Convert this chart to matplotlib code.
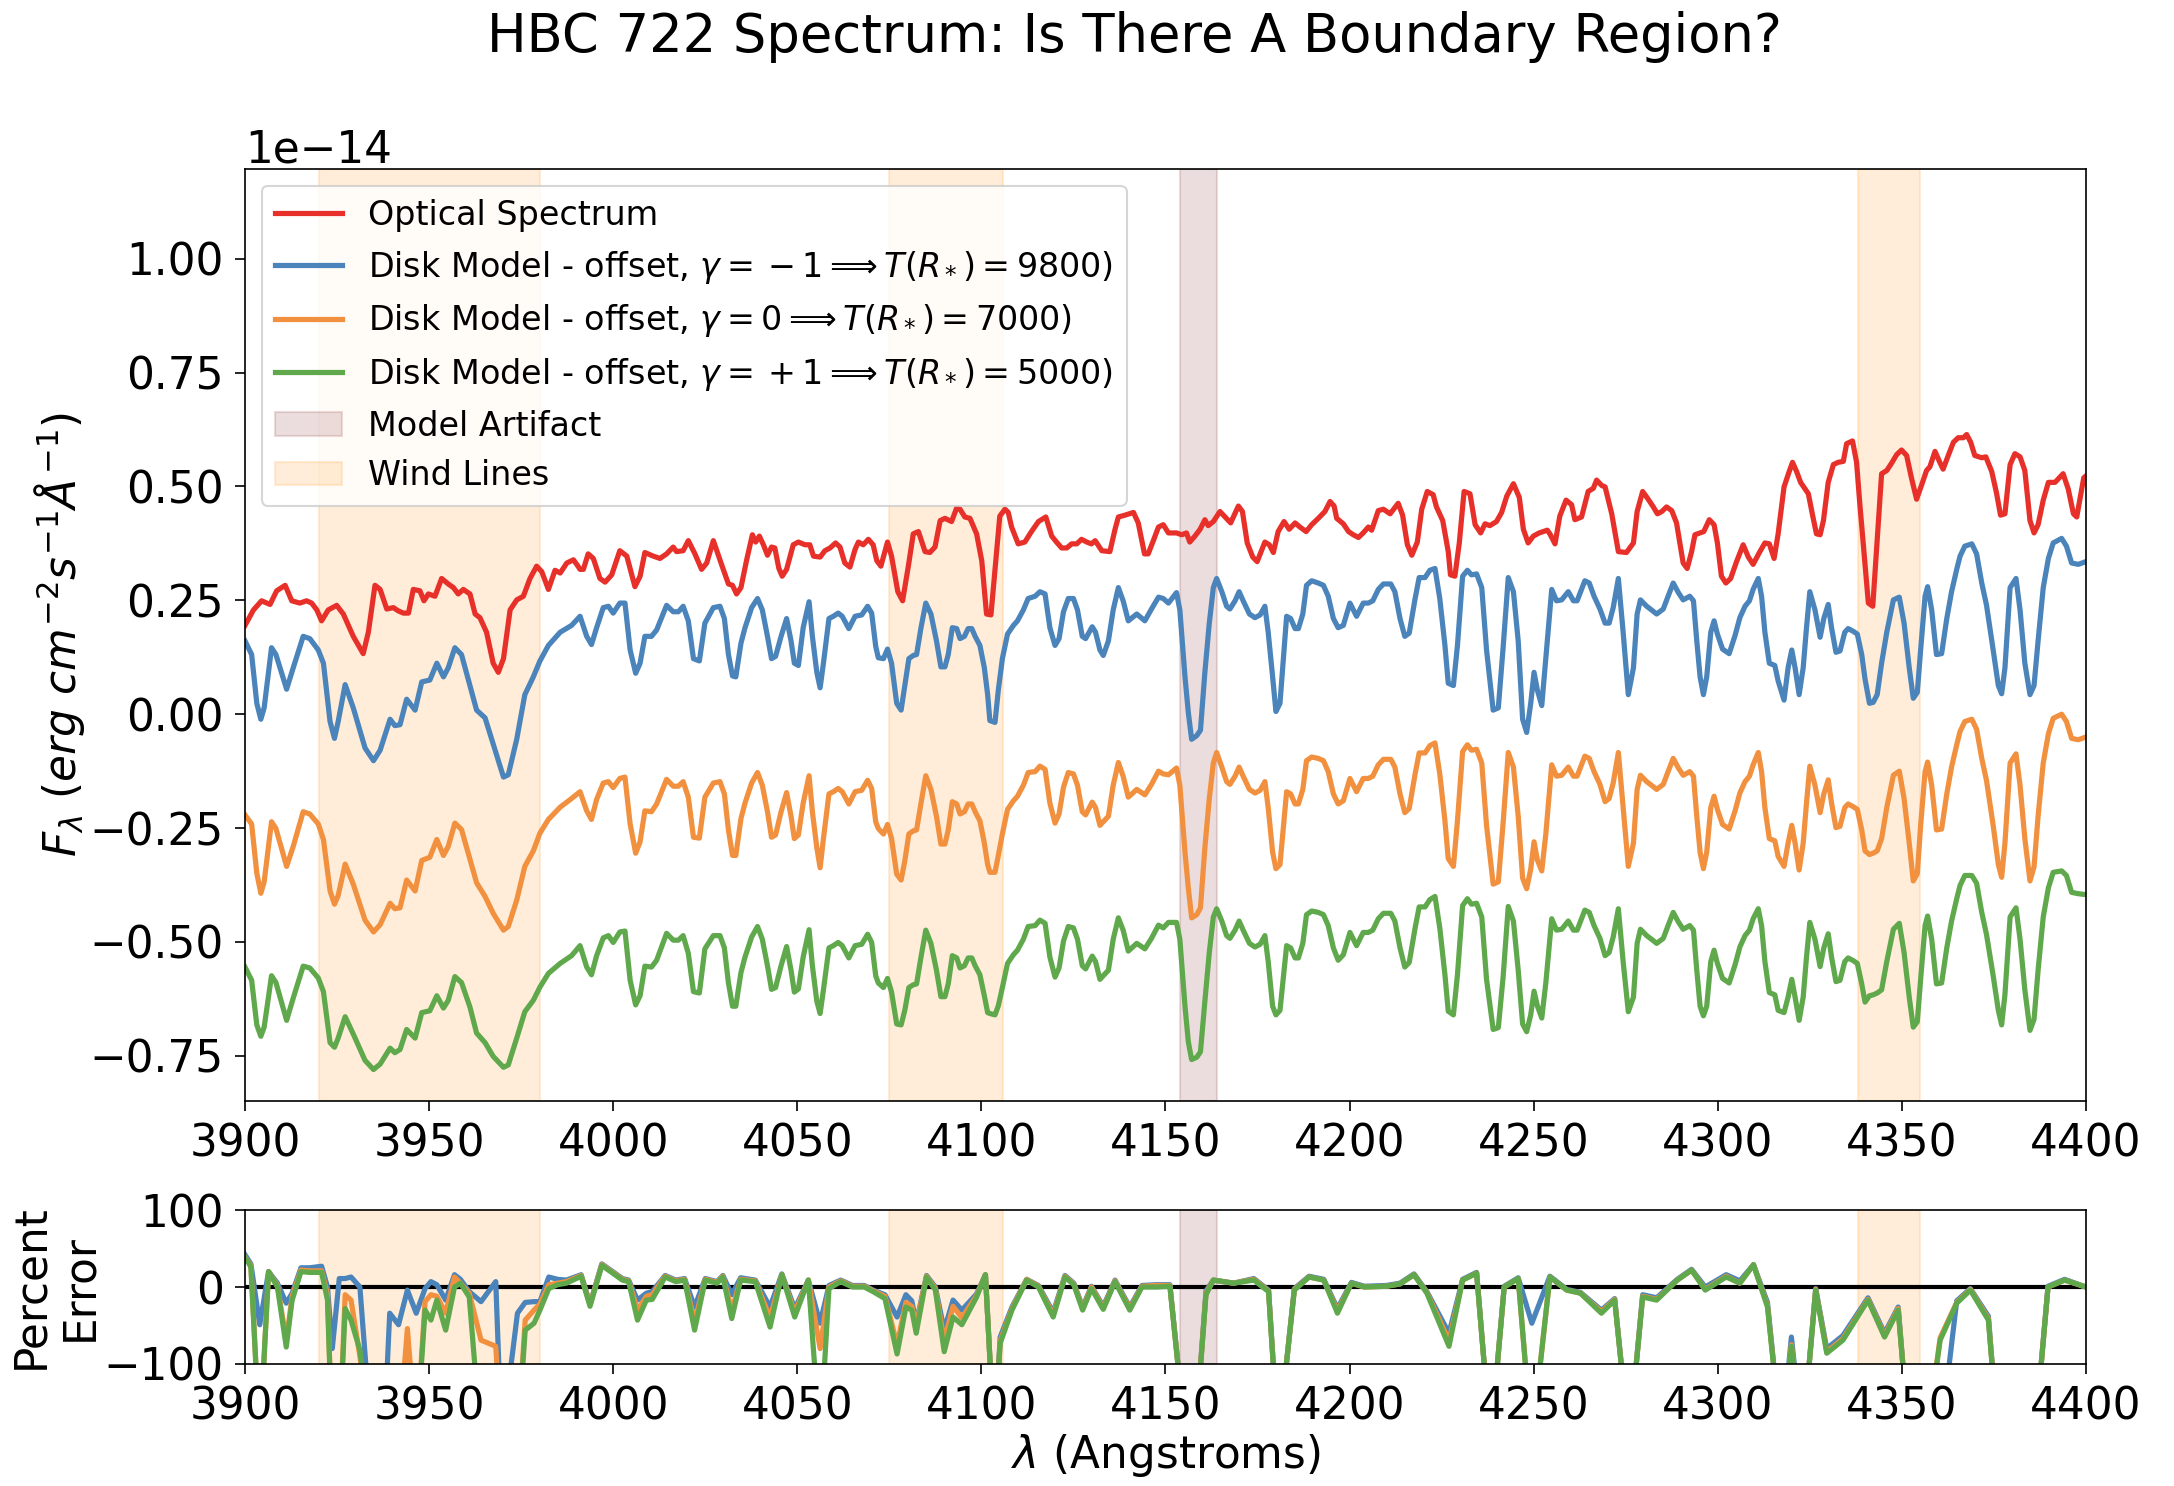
import matplotlib
matplotlib.use("Agg")
import matplotlib.pyplot as plt

# ---- wavelength grid of the disk models (Angstroms) ----
model_wl = [
    3900.0, 3901.8, 3903.2, 3904.3, 3905.2, 3907.2, 3908.4, 3911.3, 3913.1, 3915.8,
    3917.6, 3919.9, 3921.3, 3923.1, 3924.3, 3925.3, 3927.2, 3929.4, 3932.6, 3934.9,
    3936.7, 3939.4, 3940.7, 3942.1, 3943.9, 3946.2, 3948.0, 3950.2, 3952.1, 3953.9,
    3955.2, 3957.0, 3958.8, 3961.1, 3962.9, 3965.2, 3967.4, 3970.2, 3971.5, 3973.8,
    3976.0, 3978.3, 3980.1, 3982.4, 3985.6, 3988.7, 3991.0, 3992.8, 3994.1, 3995.5,
    3997.3, 3998.7, 4000.0, 4001.8, 4003.2, 4004.6, 4006.1, 4007.3, 4008.6, 4010.4,
    4011.8, 4014.5, 4016.3, 4017.7, 4019.0, 4020.4, 4021.8, 4023.4, 4024.9, 4027.2,
    4029.0, 4030.2, 4031.3, 4032.4, 4033.3, 4034.7, 4035.8, 4037.6, 4039.2, 4040.5,
    4041.9, 4043.0, 4044.1, 4045.6, 4047.1, 4048.3, 4049.2, 4050.3, 4051.6, 4053.2,
    4054.1, 4055.3, 4056.2, 4057.1, 4058.6, 4059.8, 4061.1, 4062.2, 4064.0, 4065.7,
    4067.5, 4069.1, 4070.2, 4071.3, 4072.0, 4073.4, 4074.5, 4075.6, 4077.0, 4078.2,
    4079.2, 4080.3, 4081.5, 4082.4, 4083.6, 4084.9, 4086.3, 4087.8, 4089.0, 4090.1,
    4091.0, 4092.1, 4093.3, 4094.2, 4095.4, 4096.4, 4097.4, 4098.3, 4099.6, 4100.8,
    4101.7, 4102.3, 4103.7, 4104.6, 4105.7, 4107.1, 4108.7, 4109.8, 4111.4, 4112.7,
    4114.6, 4115.9, 4117.3, 4118.6, 4120.0, 4121.1, 4122.3, 4123.6, 4125.0, 4126.1,
    4127.4, 4128.3, 4130.1, 4131.0, 4132.2, 4133.1, 4134.5, 4135.8, 4137.2, 4138.5,
    4139.9, 4142.2, 4144.4, 4146.2, 4148.1, 4149.4, 4150.8, 4153.0, 4153.9, 4155.3,
    4156.2, 4157.1, 4158.5, 4159.5, 4160.7, 4161.9, 4163.0, 4163.9, 4165.3, 4166.6,
    4167.5, 4168.9, 4170.0, 4171.1, 4172.8, 4174.3, 4175.7, 4177.0, 4177.9, 4179.1,
    4180.0, 4181.1, 4182.9, 4184.0, 4185.2, 4186.1, 4187.3, 4188.3, 4189.7, 4191.5,
    4192.9, 4194.2, 4195.6, 4196.9, 4198.3, 4200.1, 4201.9, 4203.7, 4205.1, 4206.3,
    4207.8, 4209.2, 4211.2, 4212.3, 4213.7, 4215.0, 4216.2, 4217.8, 4218.9, 4220.5,
    4221.8, 4223.2, 4224.5, 4225.9, 4226.8, 4228.2, 4229.3, 4230.7, 4232.0, 4233.1,
    4234.5, 4235.9, 4237.2, 4239.0, 4240.4, 4241.7, 4243.1, 4244.5, 4245.8, 4247.0,
    4248.1, 4249.2, 4250.1, 4251.0, 4252.2, 4253.3, 4254.9, 4256.2, 4257.6, 4259.4,
    4260.8, 4261.8, 4263.9, 4265.1, 4266.4, 4268.0, 4269.4, 4270.5, 4271.6, 4273.0,
    4274.3, 4275.7, 4277.1, 4278.1, 4279.0, 4280.7, 4282.0, 4283.4, 4285.2, 4286.6,
    4287.9, 4289.3, 4290.6, 4292.4, 4293.4, 4294.3, 4295.2, 4296.1, 4297.0, 4298.1,
    4299.0, 4299.9, 4301.3, 4303.1, 4304.7, 4306.0, 4307.4, 4308.6, 4309.6, 4311.0,
    4311.9, 4312.8, 4314.0, 4315.5, 4316.4, 4318.0, 4319.1, 4320.1, 4321.0, 4322.1,
    4323.2, 4324.1, 4325.0, 4326.4, 4327.8, 4328.8, 4330.0, 4330.9, 4332.1, 4333.2,
    4334.5, 4335.4, 4336.8, 4337.9, 4339.1, 4340.0, 4341.2, 4342.2, 4343.3, 4344.5,
    4345.9, 4347.7, 4349.3, 4350.6, 4352.0, 4353.1, 4354.2, 4355.1, 4356.3, 4357.0,
    4358.1, 4359.4, 4360.8, 4362.2, 4363.5, 4364.9, 4365.8, 4367.1, 4369.0, 4370.3,
    4371.7, 4373.0, 4374.8, 4376.2, 4377.1, 4378.0, 4379.4, 4381.0, 4382.1, 4383.4,
    4384.8, 4385.9, 4387.0, 4388.4, 4389.8, 4391.1, 4393.4, 4394.7, 4396.1, 4397.9,
    4400.0,
]

# disk model, gamma = -1 (T(R*) = 9800), already offset, units of 1e-14
disk_hot = [
    0.161, 0.131, 0.024, -0.011, 0.014, 0.146, 0.131, 0.055, 0.102, 0.171,
    0.166, 0.141, 0.112, -0.016, -0.053, -0.016, 0.065, 0.014, -0.074, -0.102,
    -0.079, -0.011, -0.025, -0.023, 0.033, 0.009, 0.071, 0.075, 0.112, 0.082,
    0.102, 0.146, 0.131, 0.063, 0.009, -0.008, -0.065, -0.138, -0.133, -0.055,
    0.043, 0.082, 0.117, 0.151, 0.180, 0.195, 0.215, 0.171, 0.153, 0.190,
    0.234, 0.237, 0.222, 0.244, 0.244, 0.141, 0.090, 0.112, 0.171, 0.171,
    0.185, 0.239, 0.225, 0.225, 0.237, 0.205, 0.122, 0.117, 0.200, 0.234,
    0.237, 0.210, 0.131, 0.084, 0.082, 0.156, 0.190, 0.234, 0.254, 0.229,
    0.171, 0.122, 0.127, 0.171, 0.210, 0.161, 0.112, 0.107, 0.190, 0.247,
    0.171, 0.092, 0.058, 0.112, 0.210, 0.215, 0.222, 0.215, 0.188, 0.215,
    0.218, 0.237, 0.222, 0.149, 0.124, 0.122, 0.143, 0.112, 0.024, 0.009,
    0.063, 0.122, 0.129, 0.131, 0.190, 0.244, 0.220, 0.161, 0.104, 0.104,
    0.131, 0.190, 0.188, 0.166, 0.171, 0.188, 0.188, 0.171, 0.151, 0.102,
    0.043, -0.014, -0.018, 0.053, 0.122, 0.176, 0.195, 0.205, 0.229, 0.254,
    0.259, 0.269, 0.264, 0.190, 0.151, 0.166, 0.225, 0.254, 0.254, 0.229,
    0.171, 0.166, 0.192, 0.180, 0.141, 0.129, 0.161, 0.229, 0.278, 0.249,
    0.205, 0.220, 0.205, 0.231, 0.257, 0.254, 0.244, 0.267, 0.229, 0.082,
    0.004, -0.055, -0.047, -0.035, 0.092, 0.200, 0.278, 0.298, 0.269, 0.237,
    0.231, 0.249, 0.269, 0.249, 0.220, 0.212, 0.218, 0.237, 0.180, 0.082,
    0.006, 0.024, 0.215, 0.210, 0.188, 0.188, 0.220, 0.283, 0.293, 0.288,
    0.283, 0.259, 0.210, 0.190, 0.195, 0.244, 0.215, 0.244, 0.244, 0.249,
    0.274, 0.286, 0.286, 0.269, 0.210, 0.171, 0.178, 0.254, 0.300, 0.300,
    0.316, 0.320, 0.254, 0.151, 0.068, 0.063, 0.151, 0.303, 0.316, 0.306,
    0.308, 0.278, 0.141, 0.009, 0.014, 0.146, 0.300, 0.269, 0.161, -0.011,
    -0.040, 0.024, 0.092, 0.053, 0.019, 0.122, 0.274, 0.249, 0.251, 0.269,
    0.249, 0.249, 0.293, 0.288, 0.259, 0.231, 0.200, 0.200, 0.234, 0.298,
    0.180, 0.043, 0.102, 0.220, 0.251, 0.237, 0.229, 0.220, 0.231, 0.261,
    0.288, 0.267, 0.251, 0.259, 0.249, 0.161, 0.082, 0.043, 0.082, 0.180,
    0.205, 0.176, 0.143, 0.133, 0.173, 0.212, 0.237, 0.249, 0.274, 0.298,
    0.259, 0.180, 0.112, 0.107, 0.073, 0.031, 0.102, 0.141, 0.102, 0.043,
    0.102, 0.190, 0.269, 0.229, 0.169, 0.210, 0.241, 0.190, 0.136, 0.139,
    0.180, 0.188, 0.182, 0.176, 0.131, 0.077, 0.024, 0.026, 0.043, 0.112,
    0.180, 0.251, 0.257, 0.200, 0.102, 0.035, 0.048, 0.141, 0.259, 0.280,
    0.229, 0.131, 0.133, 0.210, 0.269, 0.318, 0.347, 0.369, 0.374, 0.352,
    0.288, 0.239, 0.141, 0.063, 0.045, 0.102, 0.278, 0.298, 0.229, 0.112,
    0.043, 0.063, 0.161, 0.278, 0.342, 0.376, 0.386, 0.369, 0.332, 0.329,
    0.335,
]

# disk model, gamma = 0 (T(R*) = 7000)
disk_mid = [
    -0.221, -0.241, -0.349, -0.393, -0.368, -0.236, -0.251, -0.334, -0.290, -0.214,
    -0.219, -0.241, -0.275, -0.388, -0.417, -0.398, -0.329, -0.373, -0.452, -0.478,
    -0.462, -0.415, -0.427, -0.425, -0.364, -0.388, -0.321, -0.314, -0.275, -0.310,
    -0.290, -0.239, -0.253, -0.319, -0.370, -0.400, -0.437, -0.474, -0.466, -0.408,
    -0.334, -0.300, -0.261, -0.231, -0.204, -0.185, -0.170, -0.212, -0.231, -0.187,
    -0.151, -0.148, -0.161, -0.141, -0.138, -0.241, -0.305, -0.280, -0.212, -0.214,
    -0.197, -0.143, -0.158, -0.158, -0.148, -0.182, -0.270, -0.272, -0.182, -0.151,
    -0.148, -0.175, -0.254, -0.310, -0.310, -0.229, -0.195, -0.151, -0.128, -0.156,
    -0.214, -0.270, -0.265, -0.214, -0.172, -0.224, -0.273, -0.265, -0.195, -0.135,
    -0.214, -0.293, -0.337, -0.273, -0.175, -0.170, -0.163, -0.170, -0.197, -0.170,
    -0.167, -0.145, -0.163, -0.236, -0.251, -0.263, -0.242, -0.273, -0.351, -0.364,
    -0.322, -0.263, -0.256, -0.254, -0.195, -0.135, -0.165, -0.224, -0.285, -0.285,
    -0.254, -0.192, -0.197, -0.219, -0.214, -0.197, -0.197, -0.214, -0.234, -0.283,
    -0.330, -0.347, -0.347, -0.310, -0.263, -0.209, -0.190, -0.180, -0.156, -0.128,
    -0.126, -0.114, -0.121, -0.195, -0.239, -0.219, -0.160, -0.128, -0.131, -0.156,
    -0.214, -0.221, -0.193, -0.205, -0.244, -0.236, -0.224, -0.156, -0.106, -0.136,
    -0.182, -0.165, -0.177, -0.154, -0.125, -0.131, -0.133, -0.118, -0.156, -0.303,
    -0.381, -0.447, -0.440, -0.425, -0.293, -0.185, -0.107, -0.084, -0.116, -0.148,
    -0.154, -0.136, -0.116, -0.136, -0.165, -0.173, -0.167, -0.148, -0.205, -0.303,
    -0.339, -0.330, -0.170, -0.175, -0.197, -0.197, -0.165, -0.102, -0.094, -0.097,
    -0.102, -0.126, -0.175, -0.197, -0.190, -0.141, -0.170, -0.141, -0.141, -0.136,
    -0.111, -0.099, -0.099, -0.116, -0.175, -0.216, -0.207, -0.131, -0.085, -0.085,
    -0.069, -0.063, -0.131, -0.234, -0.317, -0.334, -0.234, -0.082, -0.067, -0.079,
    -0.077, -0.107, -0.244, -0.373, -0.368, -0.239, -0.084, -0.116, -0.224, -0.360,
    -0.383, -0.340, -0.280, -0.320, -0.344, -0.263, -0.111, -0.136, -0.134, -0.116,
    -0.136, -0.136, -0.092, -0.097, -0.126, -0.154, -0.192, -0.185, -0.151, -0.084,
    -0.205, -0.334, -0.283, -0.165, -0.134, -0.148, -0.156, -0.165, -0.154, -0.124,
    -0.097, -0.118, -0.134, -0.126, -0.136, -0.224, -0.303, -0.339, -0.303, -0.205,
    -0.180, -0.209, -0.242, -0.252, -0.212, -0.173, -0.148, -0.136, -0.111, -0.084,
    -0.126, -0.205, -0.273, -0.278, -0.312, -0.334, -0.283, -0.244, -0.283, -0.342,
    -0.283, -0.195, -0.114, -0.156, -0.216, -0.175, -0.144, -0.195, -0.249, -0.246,
    -0.205, -0.197, -0.203, -0.209, -0.254, -0.300, -0.308, -0.305, -0.300, -0.273,
    -0.205, -0.134, -0.125, -0.185, -0.283, -0.366, -0.350, -0.244, -0.126, -0.105,
    -0.156, -0.254, -0.252, -0.175, -0.116, -0.067, -0.038, -0.016, -0.011, -0.033,
    -0.097, -0.146, -0.244, -0.330, -0.358, -0.283, -0.107, -0.087, -0.156, -0.273,
    -0.366, -0.335, -0.224, -0.107, -0.043, -0.009, 0.000, -0.016, -0.053, -0.056,
    -0.050,
]

# disk model, gamma = +1 (T(R*) = 5000)
disk_cool = [
    -0.555, -0.584, -0.682, -0.707, -0.687, -0.574, -0.589, -0.672, -0.623, -0.553,
    -0.557, -0.579, -0.609, -0.721, -0.731, -0.711, -0.664, -0.702, -0.760, -0.780,
    -0.768, -0.733, -0.743, -0.736, -0.692, -0.711, -0.655, -0.651, -0.618, -0.645,
    -0.628, -0.576, -0.589, -0.643, -0.700, -0.721, -0.751, -0.775, -0.770, -0.711,
    -0.653, -0.628, -0.599, -0.569, -0.547, -0.530, -0.508, -0.555, -0.572, -0.530,
    -0.491, -0.486, -0.501, -0.478, -0.476, -0.584, -0.638, -0.618, -0.553, -0.555,
    -0.540, -0.481, -0.496, -0.496, -0.486, -0.525, -0.609, -0.612, -0.515, -0.486,
    -0.486, -0.513, -0.590, -0.641, -0.641, -0.567, -0.533, -0.489, -0.466, -0.494,
    -0.552, -0.604, -0.600, -0.552, -0.510, -0.562, -0.610, -0.603, -0.533, -0.473,
    -0.552, -0.630, -0.657, -0.605, -0.513, -0.508, -0.501, -0.508, -0.535, -0.508,
    -0.505, -0.483, -0.501, -0.574, -0.590, -0.600, -0.580, -0.610, -0.680, -0.682,
    -0.650, -0.600, -0.594, -0.592, -0.533, -0.474, -0.503, -0.562, -0.620, -0.620,
    -0.592, -0.530, -0.535, -0.557, -0.552, -0.535, -0.535, -0.552, -0.572, -0.618,
    -0.655, -0.657, -0.660, -0.640, -0.600, -0.547, -0.528, -0.518, -0.494, -0.466,
    -0.464, -0.452, -0.459, -0.533, -0.577, -0.557, -0.498, -0.466, -0.469, -0.494,
    -0.552, -0.559, -0.531, -0.543, -0.582, -0.574, -0.562, -0.494, -0.447, -0.474,
    -0.520, -0.503, -0.515, -0.492, -0.463, -0.469, -0.457, -0.457, -0.494, -0.641,
    -0.719, -0.758, -0.753, -0.741, -0.630, -0.523, -0.445, -0.427, -0.454, -0.486,
    -0.492, -0.474, -0.454, -0.474, -0.503, -0.511, -0.505, -0.486, -0.543, -0.641,
    -0.660, -0.650, -0.508, -0.513, -0.535, -0.535, -0.503, -0.440, -0.432, -0.435,
    -0.440, -0.464, -0.513, -0.540, -0.528, -0.479, -0.508, -0.479, -0.479, -0.474,
    -0.449, -0.437, -0.437, -0.454, -0.513, -0.555, -0.545, -0.469, -0.423, -0.423,
    -0.407, -0.400, -0.469, -0.572, -0.652, -0.660, -0.572, -0.420, -0.405, -0.417,
    -0.415, -0.445, -0.582, -0.692, -0.688, -0.577, -0.422, -0.454, -0.562, -0.680,
    -0.697, -0.660, -0.608, -0.640, -0.667, -0.590, -0.449, -0.474, -0.472, -0.454,
    -0.474, -0.474, -0.430, -0.435, -0.464, -0.492, -0.530, -0.523, -0.489, -0.427,
    -0.543, -0.653, -0.621, -0.503, -0.472, -0.486, -0.494, -0.503, -0.492, -0.462,
    -0.435, -0.456, -0.472, -0.464, -0.474, -0.562, -0.641, -0.662, -0.641, -0.543,
    -0.518, -0.547, -0.580, -0.590, -0.550, -0.511, -0.486, -0.474, -0.449, -0.427,
    -0.464, -0.543, -0.611, -0.616, -0.650, -0.655, -0.621, -0.582, -0.621, -0.672,
    -0.621, -0.533, -0.457, -0.494, -0.554, -0.513, -0.482, -0.533, -0.587, -0.584,
    -0.543, -0.535, -0.541, -0.547, -0.592, -0.632, -0.618, -0.616, -0.612, -0.605,
    -0.543, -0.472, -0.459, -0.523, -0.621, -0.687, -0.675, -0.582, -0.464, -0.443,
    -0.494, -0.592, -0.590, -0.513, -0.454, -0.405, -0.376, -0.354, -0.354, -0.371,
    -0.435, -0.484, -0.574, -0.650, -0.682, -0.615, -0.445, -0.425, -0.494, -0.605,
    -0.694, -0.670, -0.562, -0.445, -0.381, -0.347, -0.344, -0.354, -0.391, -0.394,
    -0.396,
]

# ---- observed optical spectrum ----
obs_wl = [
    3900.0, 3902.3, 3904.5, 3906.8, 3908.6, 3910.9, 3912.7, 3914.9, 3916.7, 3918.1,
    3919.5, 3920.8, 3922.6, 3924.9, 3926.7, 3929.4, 3932.1, 3933.5, 3935.3, 3936.7,
    3938.5, 3940.3, 3941.6, 3943.0, 3944.4, 3945.7, 3947.5, 3948.6, 3949.8, 3951.6,
    3953.4, 3955.2, 3956.6, 3957.9, 3959.3, 3961.1, 3962.5, 3963.8, 3965.6, 3967.4,
    3968.8, 3970.2, 3972.0, 3973.8, 3975.6, 3977.4, 3979.2, 3980.6, 3982.4, 3984.2,
    3985.6, 3987.4, 3989.2, 3990.1, 3991.0, 3991.9, 3993.2, 3994.6, 3996.4, 3997.8,
    3999.6, 4001.8, 4003.7, 4005.9, 4007.3, 4008.6, 4010.9, 4012.7, 4014.5, 4016.3,
    4017.2, 4019.0, 4020.4, 4022.2, 4024.0, 4025.4, 4027.2,
    4029.5, 4031.3, 4032.4, 4033.5, 4034.7, 4036.2, 4037.8, 4038.7, 4039.7, 4040.8,
    4041.9, 4043.0, 4043.9, 4045.0, 4045.9, 4047.1, 4048.9, 4050.3, 4052.1, 4053.4,
    4054.4, 4056.2, 4057.5, 4058.9, 4060.4, 4061.6, 4062.9, 4064.3, 4065.7, 4066.6,
    4067.9, 4069.3, 4070.6, 4071.6, 4072.7, 4074.5, 4075.6, 4077.3, 4078.6, 4080.2,
    4081.5, 4082.9, 4084.7, 4086.0, 4087.4, 4088.8, 4090.1, 4091.9, 4093.3, 4094.2,
    4095.5, 4096.9, 4098.7, 4100.1, 4101.4, 4102.6, 4103.7, 4105.0, 4106.4, 4107.3,
    4108.2, 4110.0, 4111.8, 4113.6, 4115.5, 4117.5, 4119.1, 4120.4, 4121.8, 4123.2,
    4124.5, 4125.9, 4127.2, 4128.6, 4129.9, 4130.9, 4132.7, 4134.9, 4136.3, 4137.2,
    4139.0, 4141.3, 4142.6, 4144.3, 4145.3, 4146.7, 4148.1, 4149.4, 4150.8,
    4153.0, 4154.4, 4155.7, 4156.6, 4158.0, 4159.4, 4160.7, 4161.6, 4163.0, 4164.8,
    4166.2, 4167.7, 4169.8, 4170.9, 4172.2, 4173.7, 4174.9, 4177.0, 4178.2, 4179.3,
    4180.6, 4182.2, 4183.6, 4185.2, 4186.5, 4188.2, 4189.7, 4191.5, 4193.3, 4194.7,
    4195.8, 4196.5, 4198.3, 4199.7, 4201.0, 4202.4, 4203.7, 4205.1, 4206.0, 4207.8,
    4209.2, 4211.0, 4213.2, 4214.4, 4215.7, 4216.9, 4218.4, 4219.6, 4221.1, 4222.7,
    4223.6, 4225.3, 4226.8, 4227.4, 4228.6, 4229.8, 4231.1, 4232.7, 4234.1, 4235.6,
    4236.8, 4238.1, 4239.9, 4241.3, 4242.7, 4244.5, 4246.1, 4247.2, 4248.5, 4249.9,
    4251.5, 4253.7, 4254.4, 4255.8, 4257.1, 4258.8, 4260.3, 4261.2, 4263.0, 4264.8,
    4266.2, 4267.1, 4268.5, 4269.4, 4271.2, 4273.0, 4275.2,
    4277.1, 4278.1, 4279.6, 4281.1, 4282.5, 4283.6, 4284.8, 4286.1, 4287.5, 4288.8,
    4289.7, 4290.6, 4291.7, 4292.9, 4293.8, 4295.2, 4296.2, 4297.7, 4299.0, 4299.9,
    4301.0, 4302.2, 4303.5, 4305.1, 4306.9, 4308.3, 4309.6, 4311.3, 4312.8, 4314.0,
    4315.3, 4316.4, 4318.0, 4319.2, 4320.3, 4321.4, 4322.5, 4324.6, 4325.8, 4326.8,
    4327.8, 4328.7, 4330.0, 4331.4, 4332.7, 4334.1, 4335.0, 4336.6, 4337.7, 4338.6,
    4340.0, 4340.9, 4342.1, 4343.1, 4344.5, 4345.9, 4347.2, 4348.6, 4349.9, 4351.3,
    4352.6, 4354.0, 4355.4, 4356.7, 4357.6, 4359.0, 4360.3, 4361.2, 4362.6, 4364.0,
    4365.3, 4366.7, 4367.6, 4368.7, 4369.8, 4371.7, 4372.8, 4374.4, 4375.7, 4376.8,
    4378.0, 4379.4, 4380.7, 4382.1, 4383.4, 4384.8, 4385.9, 4387.0, 4388.4, 4389.8,
    4391.6, 4393.8, 4395.2, 4396.6, 4397.5, 4398.5, 4399.4, 4400.0,
]

obs_flux = [
    0.195, 0.229, 0.249, 0.241, 0.271, 0.283, 0.249, 0.244, 0.249, 0.244,
    0.229, 0.205, 0.229, 0.239, 0.220, 0.171, 0.133, 0.180, 0.283, 0.274,
    0.231, 0.234, 0.227, 0.222, 0.222, 0.274, 0.271, 0.249, 0.264, 0.259,
    0.298, 0.286, 0.278, 0.264, 0.274, 0.264, 0.220, 0.212, 0.180, 0.112,
    0.092, 0.122, 0.229, 0.251, 0.259, 0.298, 0.325, 0.313, 0.274, 0.316,
    0.310, 0.332, 0.339, 0.329, 0.318, 0.318, 0.352, 0.342, 0.298, 0.290,
    0.306, 0.359, 0.347, 0.280, 0.303, 0.355, 0.347, 0.342, 0.352, 0.367,
    0.357, 0.359, 0.381, 0.352, 0.318, 0.332, 0.381,
    0.327, 0.286, 0.283, 0.264, 0.278, 0.337, 0.394, 0.378, 0.391, 0.372,
    0.349, 0.367, 0.365, 0.320, 0.303, 0.318, 0.372, 0.378, 0.372, 0.372,
    0.347, 0.345, 0.359, 0.365, 0.376, 0.367, 0.332, 0.323, 0.362, 0.378,
    0.372, 0.384, 0.372, 0.337, 0.325, 0.378, 0.347, 0.269, 0.249, 0.327,
    0.396, 0.401, 0.357, 0.355, 0.367, 0.425, 0.430, 0.423, 0.453, 0.450,
    0.433, 0.430, 0.396, 0.337, 0.220, 0.218, 0.318, 0.435, 0.450, 0.443,
    0.411, 0.374, 0.378, 0.401, 0.423, 0.433, 0.391, 0.378, 0.365, 0.365,
    0.374, 0.374, 0.384, 0.378, 0.374, 0.381, 0.359, 0.357, 0.406, 0.433,
    0.437, 0.443, 0.420, 0.352, 0.352, 0.381, 0.411, 0.416, 0.398,
    0.398, 0.394, 0.398, 0.378, 0.391, 0.406, 0.427, 0.414, 0.423, 0.445,
    0.433, 0.420, 0.457, 0.445, 0.376, 0.345, 0.335, 0.378, 0.372, 0.355,
    0.401, 0.423, 0.406, 0.420, 0.411, 0.401, 0.416, 0.430, 0.445, 0.467,
    0.457, 0.430, 0.418, 0.401, 0.394, 0.388, 0.398, 0.411, 0.404, 0.447,
    0.450, 0.440, 0.463, 0.437, 0.372, 0.349, 0.378, 0.450, 0.489, 0.482,
    0.455, 0.425, 0.357, 0.306, 0.303, 0.376, 0.489, 0.484, 0.416, 0.398,
    0.418, 0.414, 0.423, 0.443, 0.479, 0.506, 0.476, 0.406, 0.376, 0.391,
    0.398, 0.404, 0.396, 0.374, 0.435, 0.470, 0.460, 0.427, 0.433, 0.489,
    0.496, 0.514, 0.502, 0.499, 0.440, 0.357, 0.355,
    0.376, 0.445, 0.489, 0.472, 0.455, 0.440, 0.445, 0.455, 0.447, 0.420,
    0.376, 0.332, 0.320, 0.357, 0.394, 0.398, 0.401, 0.427, 0.416, 0.376,
    0.303, 0.288, 0.298, 0.335, 0.372, 0.345, 0.329, 0.355, 0.376, 0.374,
    0.342, 0.396, 0.499, 0.528, 0.553, 0.533, 0.509, 0.484, 0.435, 0.396,
    0.394, 0.425, 0.509, 0.548, 0.553, 0.555, 0.594, 0.600, 0.553, 0.460,
    0.327, 0.244, 0.237, 0.357, 0.528, 0.535, 0.551, 0.570, 0.580, 0.568,
    0.519, 0.472, 0.504, 0.535, 0.543, 0.577, 0.553, 0.538, 0.568, 0.597,
    0.607, 0.607, 0.614, 0.597, 0.568, 0.563, 0.565, 0.533, 0.486, 0.437,
    0.440, 0.548, 0.572, 0.565, 0.535, 0.425, 0.398, 0.416, 0.470, 0.509,
    0.509, 0.528, 0.494, 0.440, 0.433, 0.479, 0.519, 0.523,
]

# ---- percent error of each model (clipped at -100 by the axis) ----
err_wl = [
    3900.0, 3901.6, 3904.0, 3906.4, 3908.8, 3911.2, 3912.8, 3915.2, 3917.6, 3920.8,
    3922.4, 3923.7, 3925.6, 3927.2, 3928.8, 3931.2, 3934.4, 3937.7, 3939.3, 3941.7,
    3944.1, 3946.5, 3948.9, 3950.5, 3952.1, 3954.5, 3956.9, 3958.5, 3960.9, 3964.1,
    3968.1, 3969.7, 3974.0, 3976.1, 3978.5, 3980.1, 3982.5, 3984.9, 3987.3, 3991.3,
    3993.7, 3996.9, 3999.3, 4002.5, 4004.2, 4006.6, 4009.0, 4010.6, 4014.1, 4017.0,
    4019.4, 4022.1, 4025.0, 4028.2, 4029.8, 4032.2, 4034.6, 4038.6, 4042.6, 4045.8,
    4049.3, 4053.0, 4056.2, 4058.6, 4061.8, 4065.0, 4068.2, 4070.6, 4073.8, 4077.1,
    4079.5, 4081.1, 4082.3, 4085.1, 4087.5, 4089.9, 4092.3, 4094.7, 4098.7, 4101.1,
    4103.5, 4105.1, 4108.3, 4112.3, 4115.5, 4119.5, 4122.7, 4125.1, 4127.5, 4129.9,
    4133.1, 4136.3, 4140.3, 4143.6, 4147.6, 4151.2, 4155.5, 4158.0, 4161.0, 4163.0,
    4168.5, 4174.0, 4178.0, 4180.6, 4185.0, 4189.0, 4193.0, 4196.7, 4200.5, 4204.0,
    4210.0, 4213.7, 4217.5, 4221.0, 4227.0, 4230.7, 4234.5, 4238.3, 4242.0, 4245.8,
    4249.5, 4254.4, 4259.0, 4262.7, 4268.4, 4272.0, 4275.9, 4279.6, 4283.4, 4289.0,
    4292.9, 4296.6, 4302.3, 4306.0, 4309.7, 4313.5, 4317.3, 4320.0, 4323.0, 4326.6,
    4329.6, 4334.0, 4340.8, 4345.3, 4349.0, 4352.0, 4356.6, 4360.4, 4364.9, 4368.6,
    4373.5, 4376.2, 4381.0, 4386.0, 4389.7, 4394.2, 4400.0,
]

err_hot = [
    42, 30, -49, 20, 5, -21, -8, 25, 25, 27,
    0, -80, 11, 11, 13, 0, -200, -200, -34, -49,
    -4, -34, -2, 7, 3, -17, 16, 10, -6, -19,
    7, -200, -34, -20, -19, -19, 13, 10, 9, 16,
    -22, 30, 22, 11, 9, -17, -8, -6, 15, 9,
    11, -26, 11, 7, 15, -10, 12, 9, -26, 17,
    -28, 9, -47, 2, 9, 2, 2, -4, -10, -39,
    -10, -18, -47, 15, 0, -56, -17, -30, -9, 16,
    -200, -65, -26, 10, 2, -33, 15, 5, -26, 1,
    -25, 9, -26, 2, 3, 3, -200, -200, -5, 9,
    5, 11, -4, -200, -2, 14, 10, -28, 6, 1,
    2, 5, 17, -6, -60, 10, 19, -200, 1, 12,
    -47, 14, -3, -7, -30, -15, -200, -10, -14, 10,
    23, 0, 16, 8, 29, -20, -200, -65, -200, -2,
    -80, -63, -14, -60, -26, -200, -200, -200, -18, -2,
    -38, -200, -200, -200, 1, 10, 0,
]

err_mid = [
    39, 28, -200, 20, 2, -69, -12, 22, 21, 21,
    -10, -200, -200, -10, -17, -90, -200, -200, -200, -200,
    -54, -200, -19, -10, -12, -34, 13, 5, -8, -69,
    -77, -200, -200, -43, -30, -22, 3, 5, 7, 15,
    -23, 29, 21, 10, 8, -30, -12, -10, 14, 8,
    10, -45, 10, 6, 14, -30, 10, 8, -40, 16,
    -33, 9, -80, 0, 8, 1, 1, -5, -12, -75,
    -20, -25, -50, 14, -2, -70, -25, -40, -11, 16,
    -200, -70, -28, 10, 1, -36, 14, 4, -28, 0,
    -27, 8, -28, 1, 2, 2, -200, -200, -8, 9,
    5, 10, -5, -200, -3, 13, 9, -31, 5, 0,
    1, 4, 16, -7, -70, 9, 18, -200, 0, 11,
    -200, 13, -4, -8, -32, -16, -200, -12, -16, 9,
    22, -3, 14, 5, 29, -24, -200, -75, -200, -3,
    -84, -67, -16, -63, -28, -200, -200, -66, -20, -3,
    -41, -200, -200, -200, 0, 9, 0,
]

err_cool = [
    39, 26, -200, 20, 0, -78, -17, 20, 19, 19,
    -17, -200, -200, -28, -43, -82, -200, -200, -200, -200,
    -200, -200, -30, -43, -17, -56, 0, 5, -13, -200,
    -200, -200, -200, -56, -47, -30, -2, 3, 5, 14,
    -25, 28, 20, 9, 7, -43, -17, -16, 13, 7,
    9, -56, 9, 5, 13, -41, 9, 7, -52, 16,
    -39, 9, -200, -2, 7, 0, 0, -6, -15, -87,
    -26, -30, -60, 13, -4, -84, -39, -49, -13, 16,
    -200, -73, -30, 9, 0, -39, 13, 3, -30, -2,
    -29, 7, -30, 0, 0, 1, -200, -200, -10, 9,
    5, 9, -6, -200, -4, 13, 9, -34, 5, 0,
    1, 4, 16, -8, -77, 9, 18, -200, 0, 11,
    -200, 13, -4, -8, -34, -17, -200, -13, -17, 9,
    22, -4, 13, 5, 29, -26, -200, -77, -200, -4,
    -86, -69, -17, -65, -30, -200, -200, -69, -21, -4,
    -43, -200, -200, -200, 0, 9, 0,
]

# shaded wavelength regions
wind_regions = [(3920, 3980), (4075, 4106), (4338, 4355)]
artifact_region = (4154, 4164)

labels = [
    'Optical Spectrum',
    r'Disk Model - offset, $\gamma = {} - 1 \Longrightarrow T(R_*) = 9800)$',
    r'Disk Model - offset, $\gamma = 0 \Longrightarrow T(R_*) = 7000)$',
    r'Disk Model - offset, $\gamma = {} + 1 \Longrightarrow T(R_*) = 5000)$',
]
colors = ['#e8302a', '#4a84ba', '#f1913f', '#5fa84c']
wind_color = '#ff8c00'
artifact_color = '#8b3a3a'

fs = 21  # tick / label font size
lw = 2.5

fig = plt.figure(figsize=(2174 / 150, 1486 / 150), dpi=150)
ax = fig.add_axes([0.1127, 0.2591, 0.8468, 0.6272])
ax_err = fig.add_axes([0.1127, 0.0821, 0.8468, 0.1036])

# shaded regions on both panels
for a in (ax, ax_err):
    art = a.axvspan(*artifact_region, color=artifact_color, alpha=0.17)
    winds = [a.axvspan(lo, hi, color=wind_color, alpha=0.15) for lo, hi in wind_regions]
    if a is ax:
        artifact_patch, wind_patch = art, winds[0]

# main panel
scale = 1e-14
series = [(obs_wl, obs_flux), (model_wl, disk_hot), (model_wl, disk_mid), (model_wl, disk_cool)]
handles = []
for (wl, fl), lab, col in zip(series, labels, colors):
    ln, = ax.plot(wl, [v * scale for v in fl], color=col, lw=lw, label=lab)
    handles.append(ln)

artifact_patch.set_label('Model Artifact')
wind_patch.set_label('Wind Lines')
handles += [artifact_patch, wind_patch]

ax.set_xlim(3900, 4400)
ax.set_ylim(-0.849e-14, 1.197e-14)
ax.set_xticks(range(3900, 4401, 50))
ax.set_ylabel(r'$F_\lambda\ (erg\ cm^{-2} s^{-1} \AA^{-1})$', fontsize=fs, labelpad=1)
ax.tick_params(labelsize=fs, length=4.7, pad=5.5)
ax.yaxis.get_offset_text().set_fontsize(fs)
ax.legend(handles=handles, loc='upper left', fontsize=16)

# percent error panel
ax_err.axhline(0, color='k', lw=2)
for err, col in zip([err_hot, err_mid, err_cool], colors[1:]):
    ax_err.plot(err_wl, err, color=col, lw=lw)
ax_err.set_xlim(3900, 4400)
ax_err.set_ylim(-100, 100)
ax_err.set_yticks([-100, 0, 100])
ax_err.set_xticks(range(3900, 4401, 50))
ax_err.tick_params(labelsize=fs, length=4.7, pad=5.5)
ax_err.set_ylabel('Percent\nError', fontsize=fs, labelpad=1)
ax_err.set_xlabel(r'$\lambda$ (Angstroms)', fontsize=fs, labelpad=2)

fig.text(0.522, 0.965, 'HBC 722 Spectrum: Is There A Boundary Region?',
         ha='center', va='baseline', fontsize=25.3)

fig.savefig('out.png', dpi=150)
plt.close(fig)
